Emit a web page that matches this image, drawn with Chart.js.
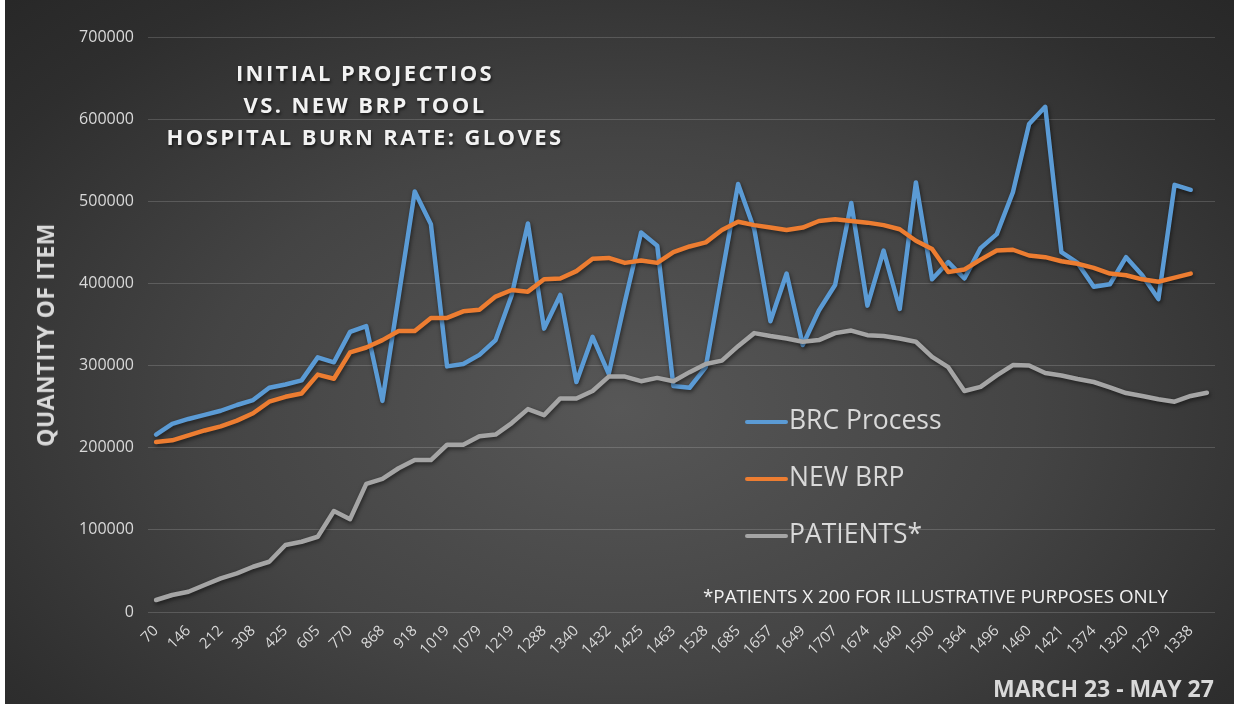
<!DOCTYPE html>
<html>
<head>
<meta charset="utf-8">
<script src="https://cdn.jsdelivr.net/npm/chart.js@4"></script>
<style>
  html, body { margin: 0; padding: 0; background: #ffffff; }
  #wrap { position: relative; width: 1239px; height: 711px; overflow: hidden; font-family: "Open Sans", sans-serif; }
  #bg { position: absolute; left: 5px; top: 0; width: 1229px; height: 704px;
        background: radial-gradient(ellipse 75% 85% at 50% 58%, #575757 0%, #444444 45%, #2e2e2e 80%, #262626 100%); }
  #myChart { position: absolute; left: 0; top: 0; }
  .title { position: absolute; left: 115px; width: 500px; top: 56px; text-align: center;
           color: #f2f2f2; font-weight: 700; font-size: 22px; letter-spacing: 2.4px; line-height: 32px;
           text-shadow: 1px 2px 3px rgba(0,0,0,0.6); }
  .ytitle { position: absolute; left: 45px; top: 335px; transform: translate(-50%, -50%) rotate(-90deg);
            white-space: nowrap; color: #d9d9d9; font-weight: 700; font-size: 23px; letter-spacing: 0.4px; }
  .legend { position: absolute; left: 745px; top: 400px; color: #d9d9d9; font-size: 26.5px; }
  .legend div { height: 57px; line-height: 38px; white-space: nowrap; }
  .legend span.swatch { display: inline-block; width: 43px; height: 4px; vertical-align: middle; margin-right: 1px; border-radius: 2px; }
  .note { position: absolute; left: 703px; top: 583px; color: #f2f2f2; font-size: 18.8px; white-space: nowrap; }
  .dates { position: absolute; left: 993px; top: 672px; color: #d9d9d9; font-size: 23px; font-weight: 700; white-space: nowrap; }
</style>
</head>
<body>
<div id="wrap">
  <div id="bg"></div>
  <canvas id="myChart" width="1239" height="711"></canvas>
  <div class="title">INITIAL PROJECTIOS<br>VS. NEW BRP TOOL<br>HOSPITAL BURN RATE: GLOVES</div>
  <div class="ytitle">QUANTITY OF ITEM</div>
  <div class="legend">
    <div><span class="swatch" style="background:#5b9bd5"></span>BRC Process</div>
    <div><span class="swatch" style="background:#ed7d31"></span>NEW BRP</div>
    <div><span class="swatch" style="background:#a5a5a5"></span>PATIENTS*</div>
  </div>
  <div class="note">*PATIENTS X 200 FOR ILLUSTRATIVE PURPOSES ONLY</div>
  <div class="dates">MARCH 23 - MAY 27</div>
</div>
<script>
// daily patient counts used as category labels (every other one shown)
const labels = [
  70, 124, 146, 205, 212, 276, 308, 408, 425, 458,
  605, 565, 770, 810, 868, 921, 918, 1012, 1019, 1070,
  1079, 1150, 1219, 1199, 1288, 1300, 1340, 1433, 1432, 1405,
  1425, 1410, 1463, 1510, 1528, 1618, 1685, 1680, 1657, 1645,
  1649, 1698, 1707, 1685, 1674, 1665, 1640, 1553, 1500, 1345,
  1364, 1440, 1496, 1500, 1460, 1440, 1421, 1400, 1374, 1333,
  1320, 1295, 1279, 1315, 1338, 1350
];

const brcProcess = [
  216000, 229000, 235000, 240000, 245000, 252000, 258000, 273000, 277000, 282000,
  310000, 304000, 341000, 348000, 257000, 384000, 512000, 472000, 299000, 302000,
  313000, 331000, 386000, 473000, 345000, 386000, 280000, 335000, 290000, 378000,
  462000, 446000, 275000, 273000, 298000, 410000, 521000, 466000, 354000, 412000,
  325000, 367000, 398000, 498000, 373000, 440000, 369000, 523000, 405000, 426000,
  406000, 443000, 460000, 511000, 594000, 615000, 438000, 425000, 396000, 399000,
  432000, 410000, 381000, 520000, 514000
];

const newBrp = [
  207000, 209000, 215000, 221000, 226000, 233000, 242000, 256000, 262000, 266000,
  289000, 284000, 316000, 322000, 331000, 342000, 342000, 358000, 358000, 366000,
  368000, 384000, 392000, 390000, 405000, 406000, 415000, 430000, 431000, 425000,
  428000, 425000, 438000, 445000, 450000, 465000, 475000, 471000, 468000, 465000,
  468000, 476000, 478000, 476000, 474000, 471000, 466000, 452000, 442000, 414000,
  417000, 429000, 440000, 441000, 434000, 432000, 427000, 424000, 419000, 412000,
  410000, 405000, 402000, 407000, 412000
];

const patients = [
  14600, 20700, 24700, 32900, 41000, 47000, 55100, 61200, 81500, 85500,
  91600, 123000, 113000, 156000, 162000, 175000, 185000, 185000, 203600, 203600,
  214000, 216000, 230000, 247000, 239700, 260000, 260000, 269000, 286600, 286600,
  281000, 285000, 281000, 292000, 302000, 306000, 323600, 339500, 336000, 333000,
  329000, 331000, 339500, 342600, 337000, 336000, 333000, 329000, 310500, 298000,
  269000, 274000, 288000, 300600, 300000, 291000, 288000, 283700, 280000, 273500,
  266500, 263000, 259000, 256000, 263000, 267000
];

const yTicks = [0, 100000, 200000, 300000, 400000, 500000, 600000, 700000];

// soft drop shadow under the lines, like the original
const lineShadow = {
  id: "lineShadow",
  beforeDatasetsDraw: function (chart) {
    const c = chart.ctx;
    c.save();
    c.shadowColor = "rgba(0, 0, 0, 0.55)";
    c.shadowBlur = 4;
    c.shadowOffsetX = 1;
    c.shadowOffsetY = 2;
  },
  afterDatasetsDraw: function (chart) {
    chart.ctx.restore();
  },
};

const ctx = document.getElementById("myChart").getContext("2d");
const myChart = new Chart(ctx, {
  type: "line",
  data: {
    labels: labels,
    datasets: [
      {
        label: "BRC Process",
        data: brcProcess,
        borderColor: "#5b9bd5",
        order: 3,
      },
      {
        label: "NEW BRP",
        data: newBrp,
        borderColor: "#ed7d31",
        order: 2,
      },
      {
        label: "PATIENTS*",
        data: patients,
        borderColor: "#a5a5a5",
        order: 1,
      },
    ],
  },
  options: {
    responsive: false,
    animation: false,
    layout: { padding: { left: 0, right: 24, top: 37, bottom: 0 } },
    elements: {
      line: { borderWidth: 4.5, tension: 0, borderJoinStyle: "round", borderCapStyle: "round", fill: false },
      point: { radius: 0 },
    },
    plugins: {
      legend: { display: false },
      tooltip: { enabled: false },
    },
    scales: {
      x: {
        offset: true,
        grid: { display: false },
        border: { display: false },
        afterFit: function (scale) { scale.height = 99; },
        ticks: {
          autoSkip: false,
          maxRotation: 45,
          minRotation: 45,
          padding: 2,
          color: "#d9d9d9",
          font: { family: "Open Sans", size: 15 },
          callback: function (value, index) {
            return index % 2 === 0 ? this.getLabelForValue(value) : "";
          },
        },
      },
      y: {
        min: 0,
        max: 700000,
        afterFit: function (scale) { scale.width = 148; },
        afterBuildTicks: function (scale) {
          scale.ticks = yTicks.map(function (v) { return { value: v }; });
        },
        grid: { color: "rgba(255, 255, 255, 0.16)", lineWidth: 1, drawTicks: false },
        border: { display: false },
        ticks: {
          padding: 14,
          color: "#d9d9d9",
          font: { family: "Open Sans", size: 16 },
          callback: function (value) { return String(value); },
        },
      },
    },
  },
  plugins: [lineShadow],
});
</script>
</body>
</html>
